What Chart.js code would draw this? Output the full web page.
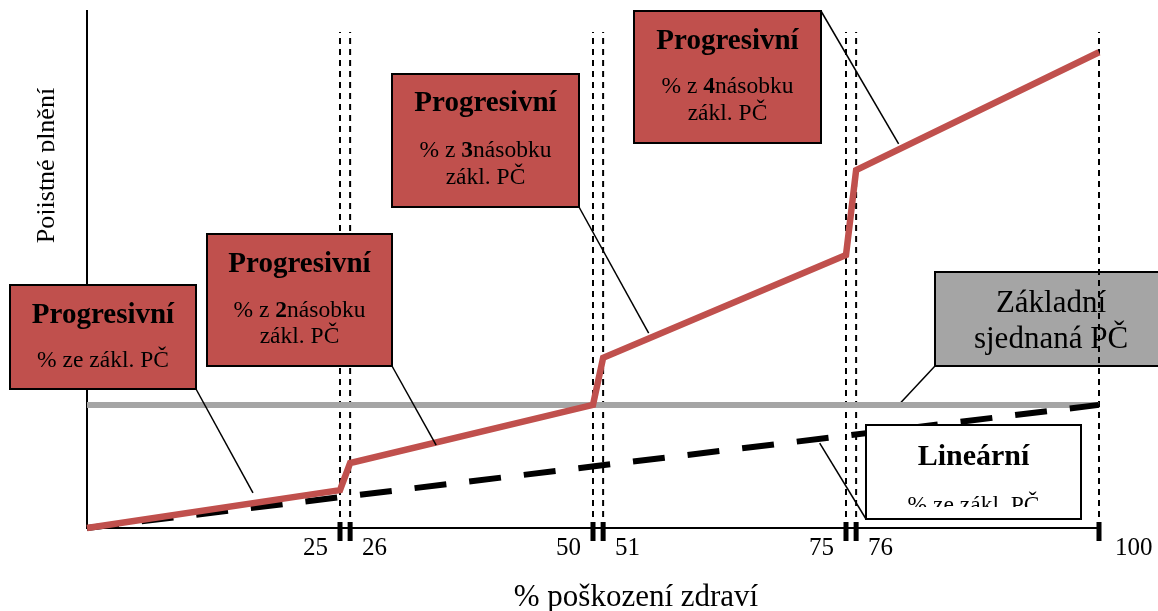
<!DOCTYPE html>
<html>
<head>
<meta charset="utf-8">
<script src="https://cdn.jsdelivr.net/npm/chart.js@4/dist/chart.umd.min.js"></script>
<style>
  html, body { margin: 0; padding: 0; background: #fff; }
  #wrap { width: 1158px; height: 611px; }
</style>
</head>
<body>
<div id="wrap"><canvas id="graf" width="1158" height="611"></canvas></div>
<script>
// data
const poskozeni = [0, 25, 26, 50, 51, 75, 76, 100];
const progresivni = [0, 9.5, 16.3, 30.9, 42.7, 68.5, 89.8, 119.4];
const zakladniX = [0, 100];
const zakladni = [30.9, 30.9];
const linearniX = [0, 100];
const linearni = [0, 30.9];
const hranice = [25, 26, 50, 51, 75, 76, 100];
const popisky = ['25', '26', '50', '51', '75', '76', '100'];
const stranaPopisku = [-1, 1, -1, 1, -1, 1, 1];
const vrchHranic = 124.5;

const SERIF = '"Liberation Serif", "Times New Roman", serif';
const pts = (xs, ys) => xs.map((x, i) => ({ x: x, y: ys[i] }));

// popisky v ramecku (pozice v px, spicka spojnice v datech)
const ramecky = [
  { x: 10, y: 285, w: 186, h: 104, fill: '#C0504D', from: [196, 389], to: [16.4, 8.8],
    lines: [ { y: 323, s: 29, t: [['Progresivní', 1]] }, { y: 367, s: 23.5, t: [['% ze zákl. PČ', 0]] } ] },
  { x: 207, y: 234, w: 185, h: 132, fill: '#C0504D', from: [392, 366], to: [34.5, 20.8],
    lines: [ { y: 272, s: 29, t: [['Progresivní', 1]] }, { y: 317, s: 23.5, t: [['% z ', 0], ['2', 1], ['násobku', 0]] }, { y: 343, s: 23.5, t: [['zákl. PČ', 0]] } ] },
  { x: 392, y: 74, w: 187, h: 133, fill: '#C0504D', from: [579, 207], to: [55.5, 48.9],
    lines: [ { y: 111, s: 29, t: [['Progresivní', 1]] }, { y: 157, s: 23.5, t: [['% z ', 0], ['3', 1], ['násobku', 0]] }, { y: 184, s: 23.5, t: [['zákl. PČ', 0]] } ] },
  { x: 634, y: 11, w: 187, h: 132, fill: '#C0504D', from: [821, 11], to: [80.2, 96.4],
    lines: [ { y: 49, s: 29, t: [['Progresivní', 1]] }, { y: 93, s: 23.5, t: [['% z ', 0], ['4', 1], ['násobku', 0]] }, { y: 120, s: 23.5, t: [['zákl. PČ', 0]] } ] },
  { x: 935, y: 272, w: 232, h: 94, fill: '#A5A5A5', under: true, from: [935, 366], to: [80.1, 30.6],
    lines: [ { y: 312, s: 31, t: [['Základní', 0]] }, { y: 348, s: 31, t: [['sjednaná PČ', 0]] } ] },
  { x: 866, y: 425, w: 215, h: 94, fill: '#ffffff', clipText: 507, from: [866, 519], to: [72.4, 21.3],
    lines: [ { y: 465, s: 30, t: [['Lineární', 1]] }, { y: 512, s: 23.5, t: [['% ze zákl. PČ', 0]] } ] }
];

function textRuns(ctx, parts, cx, y, size) {
  let w = 0;
  parts.forEach(p => {
    ctx.font = (p[1] ? 'bold ' : '') + size + 'px ' + SERIF;
    w += ctx.measureText(p[0]).width;
  });
  let x = cx - w / 2;
  ctx.textAlign = 'left';
  ctx.textBaseline = 'alphabetic';
  parts.forEach(p => {
    ctx.font = (p[1] ? 'bold ' : '') + size + 'px ' + SERIF;
    ctx.fillText(p[0], x, y);
    x += ctx.measureText(p[0]).width;
  });
}

function kresliRamecek(chart, r) {
  const ctx = chart.ctx;
  const sx = chart.scales.x, sy = chart.scales.y;
  ctx.save();
  // spojnice
  ctx.strokeStyle = '#000';
  ctx.lineWidth = 1.5;
  ctx.beginPath();
  ctx.moveTo(r.from[0], r.from[1]);
  ctx.lineTo(sx.getPixelForValue(r.to[0]), sy.getPixelForValue(r.to[1]));
  ctx.stroke();
  // box
  ctx.fillStyle = r.fill;
  ctx.fillRect(r.x, r.y, r.w, r.h);
  ctx.lineWidth = 2;
  ctx.strokeRect(r.x, r.y, r.w, r.h);
  // text
  if (r.clipText) {
    ctx.beginPath();
    ctx.rect(r.x, r.y, r.w, r.clipText - r.y);
    ctx.clip();
  }
  ctx.fillStyle = '#000';
  r.lines.forEach(l => textRuns(ctx, l.t, r.x + r.w / 2, l.y, l.s));
  ctx.restore();
}

const osyPlugin = {
  id: 'osy',
  beforeDatasetsDraw(chart) {
    const ctx = chart.ctx, a = chart.chartArea;
    ctx.save();
    ctx.strokeStyle = '#000';
    ctx.lineWidth = 2;
    ctx.beginPath();
    ctx.moveTo(a.left, a.top);
    ctx.lineTo(a.left, a.bottom);
    ctx.lineTo(a.right, a.bottom);
    ctx.stroke();

    // nazev osy y (spodni cast pismen orizla jako v predloze)
    ctx.save();
    ctx.beginPath();
    ctx.rect(0, 0, 54.5, 611);
    ctx.clip();
    ctx.translate(54, 165.5);
    ctx.rotate(-Math.PI / 2);
    ctx.fillStyle = '#000';
    ctx.font = '26px ' + SERIF;
    ctx.textAlign = 'center';
    ctx.textBaseline = 'alphabetic';
    ctx.fillText('Pojistné plnění', 0, 0);
    ctx.restore();

    // nazev osy x
    ctx.fillStyle = '#000';
    ctx.font = '31px ' + SERIF;
    ctx.textAlign = 'center';
    ctx.textBaseline = 'alphabetic';
    ctx.fillText('% poškození zdraví', 636, 606);
    ctx.restore();

    ramecky.filter(r => r.under).forEach(r => kresliRamecek(chart, r));
  },
  afterDatasetsDraw(chart) {
    const ctx = chart.ctx, a = chart.chartArea;
    const sx = chart.scales.x;
    ramecky.filter(r => !r.under).forEach(r => kresliRamecek(chart, r));

    ctx.save();
    ctx.fillStyle = '#000';
    ctx.font = '25px ' + SERIF;
    ctx.textBaseline = 'alphabetic';
    hranice.forEach((v, i) => {
      const px = sx.getPixelForValue(v);
      ctx.fillRect(px - 2.5, a.bottom - 6, 5, 19);
      const s = stranaPopisku[i];
      ctx.textAlign = s < 0 ? 'right' : 'left';
      ctx.fillText(popisky[i], px + s * (v === 100 ? 16 : 12), 555);
    });
    ctx.restore();
  }
};

const datasets = [
  { data: pts(poskozeni, progresivni), borderColor: '#C0504D', borderWidth: 6.5 },
  { data: pts(linearniX, linearni), borderColor: '#000000', borderWidth: 6, borderDash: [32, 23] },
  { data: pts(zakladniX, zakladni), borderColor: '#A5A5A5', borderWidth: 6 }
].concat(hranice.map(v => ({
  data: [{ x: v, y: 0 }, { x: v, y: vrchHranic }],
  borderColor: '#000000', borderWidth: 2, borderDash: [6, 5]
})));

datasets.forEach(d => {
  d.pointRadius = 0;
  d.fill = false;
  d.tension = 0;
  d.clip = false;
});

new Chart(document.getElementById('graf'), {
  type: 'line',
  data: { datasets: datasets },
  options: {
    responsive: false,
    animation: false,
    devicePixelRatio: 1,
    layout: { padding: { left: 87, right: 59, top: 10, bottom: 83 } },
    plugins: { legend: { display: false }, tooltip: { enabled: false } },
    scales: {
      x: { type: 'linear', min: 0, max: 100, display: false },
      y: { type: 'linear', min: 0, max: 130, display: false }
    }
  },
  plugins: [osyPlugin]
});
</script>
</body>
</html>
